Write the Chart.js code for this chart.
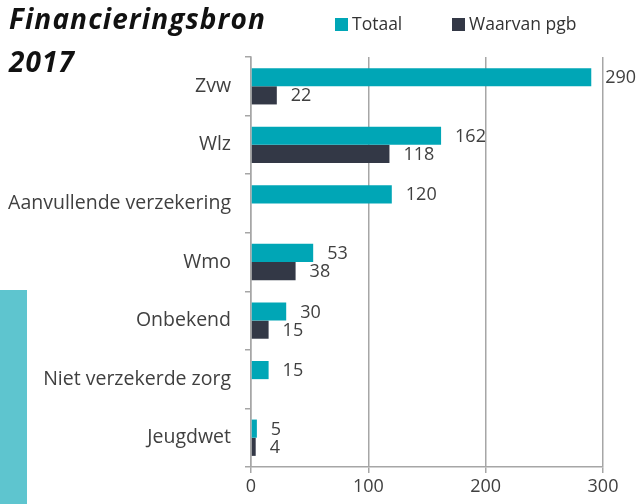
<!DOCTYPE html>
<html>
<head>
<meta charset="utf-8">
<script src="https://cdn.jsdelivr.net/npm/chart.js@4"></script>
<style>
  body { margin: 0; background: #fff; }
  #wrap { position: relative; width: 640px; height: 504px; overflow: hidden; }
  #chart { position: absolute; left: 0; top: 0; }
  .title { position: absolute; left: 9px; top: -3px; font: italic bold 28px "Open Sans", sans-serif; letter-spacing: 1.1px; line-height: 43px; color: #111; }
  .legend { position: absolute; top: 11px; font: 17.5px "Open Sans", sans-serif; color: #333; }
  .legend span.box { display: inline-block; width: 13px; height: 13px; margin-right: 4px; vertical-align: -1px; }
  .deco { position: absolute; left: 0; top: 290px; width: 27px; height: 214px; background: #5ec5cf; }
</style>
</head>
<body>
<div id="wrap">
  <canvas id="chart" width="640" height="504"></canvas>
  <div class="title">Financieringsbron<br>2017</div>
  <div class="legend" style="left:335px"><span class="box" style="background:#00a6b6"></span>Totaal</div>
  <div class="legend" style="left:452px"><span class="box" style="background:#333846"></span>Waarvan pgb</div>
  <div class="deco"></div>
</div>
<script>
const categories = ['Zvw', 'Wlz', 'Aanvullende verzekering', 'Wmo', 'Onbekend', 'Niet verzekerde zorg', 'Jeugdwet'];
const totaal = [290, 162, 120, 53, 30, 15, 5];
const pgb = [22, 118, null, 38, 15, null, 4];
const xTicks = [0, 100, 200, 300];

// draws the value next to the end of each bar
const valueLabels = {
    id: 'valueLabels',
    afterDatasetsDraw(chart) {
        const ctx = chart.ctx;
        ctx.save();
        ctx.font = '18px "Open Sans", sans-serif';
        ctx.fillStyle = '#404040';
        ctx.textBaseline = 'middle';
        chart.data.datasets.forEach((ds, i) => {
            chart.getDatasetMeta(i).data.forEach((bar, j) => {
                if (ds.data[j] == null) return;
                ctx.fillText(ds.data[j], bar.x + 14, bar.y + 1);
            });
        });
        ctx.restore();
    }
};

const chart = new Chart(document.getElementById('chart'), {
    type: 'bar',
    data: {
        labels: categories,
        datasets: [{
            label: 'Totaal',
            data: totaal,
            backgroundColor: '#00a6b6',
            barPercentage: 1,
            categoryPercentage: 0.62
        }, {
            label: 'Waarvan pgb',
            data: pgb,
            backgroundColor: '#333846',
            barPercentage: 1,
            categoryPercentage: 0.62
        }]
    },
    options: {
        indexAxis: 'y',
        responsive: false,
        animation: false,
        layout: { padding: { top: 57, right: 37, left: 0, bottom: 0 } },
        plugins: {
            legend: { display: false },
            tooltip: { enabled: false }
        },
        scales: {
            x: {
                min: 0,
                max: 300,
                afterBuildTicks: (scale) => { scale.ticks = xTicks.map(v => ({ value: v })); },
                afterFit: (scale) => { scale.height = 37; },
                grid: { color: '#a6a6a6', lineWidth: 1.5, tickLength: 6 },
                border: { color: '#a6a6a6', width: 1.5 },
                ticks: { color: '#404040', font: { family: 'Open Sans', size: 18 }, padding: 3 }
            },
            y: {
                afterFit: (scale) => { scale.width = 251; },
                grid: { drawOnChartArea: false, color: '#a6a6a6', lineWidth: 1.5, tickLength: 6 },
                border: { color: '#a6a6a6', width: 1.5 },
                ticks: { color: '#404040', font: { family: 'Open Sans', size: 19.5 }, padding: 14 }
            }
        }
    },
    plugins: [valueLabels]
});
</script>
</body>
</html>
